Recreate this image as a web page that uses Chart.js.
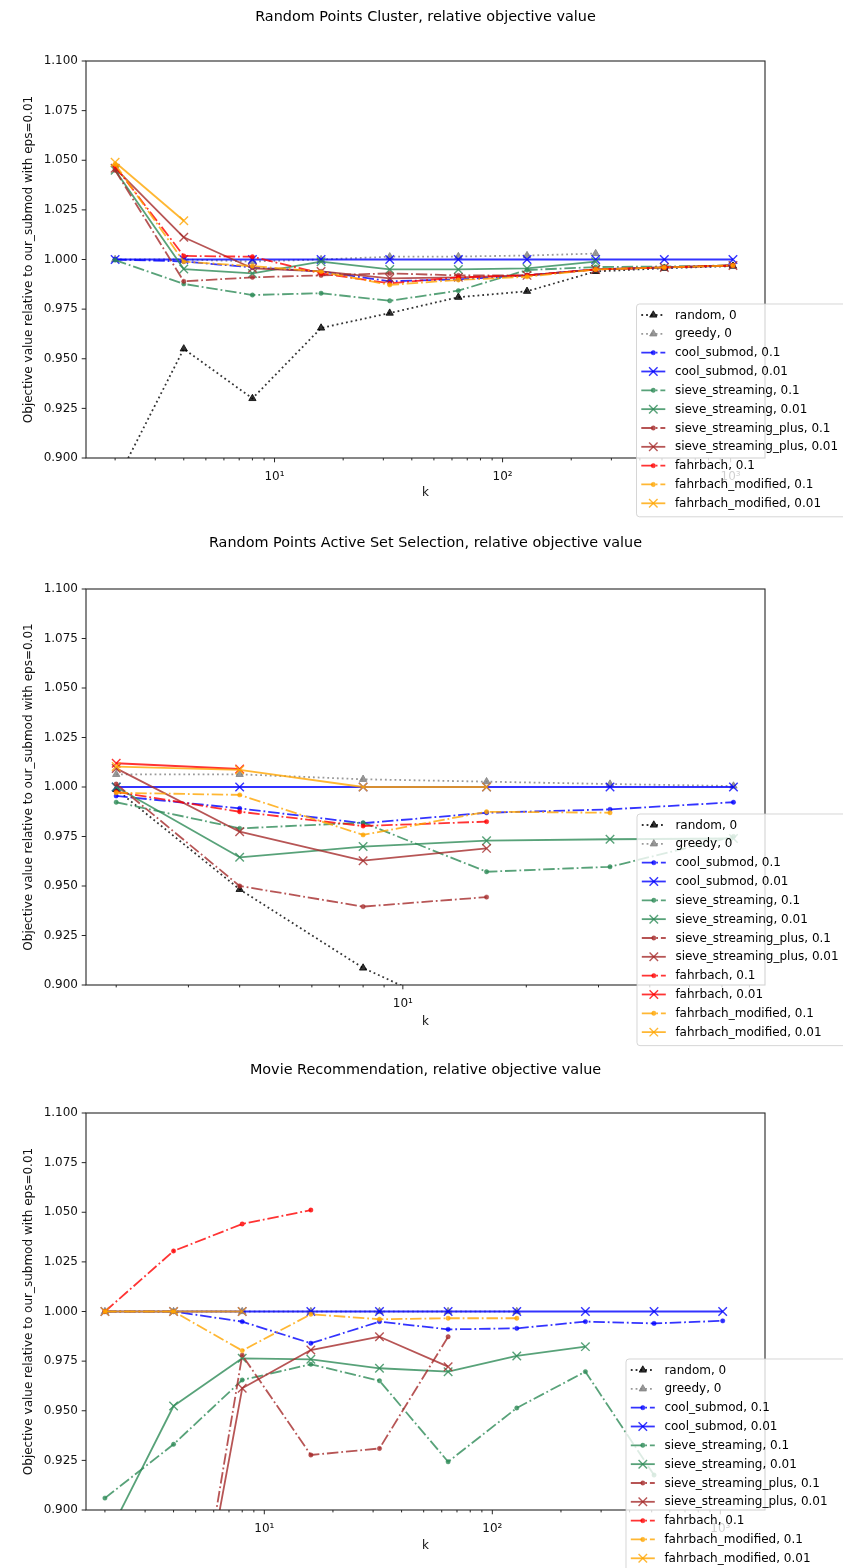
<!DOCTYPE html>
<html><head><meta charset="utf-8">
<script src="https://cdn.jsdelivr.net/npm/chart.js@4.4.0/dist/chart.umd.min.js"></script>
<style>
html,body{margin:0;padding:0;background:#fff;}
body{width:843px;height:1568px;position:relative;overflow:hidden;}
canvas{position:absolute;left:0;}
</style></head><body>
<canvas id="c1" width="843" height="528" style="top:0px"></canvas>
<canvas id="c2" width="843" height="528" style="top:528px"></canvas>
<canvas id="c3" width="843" height="512" style="top:1056px"></canvas>
<script>
// ---------------- DATA ----------------
const yTickValues = [0.900, 0.925, 0.950, 0.975, 1.000, 1.025, 1.050, 1.075, 1.100];
const xMajorTickValues = [10, 100, 1000];
const xMajorTickLabels = ['10\u00b9', '10\u00b2', '10\u00b3'];

// Random Points Cluster
const kCluster = [2, 4, 8, 16, 32, 64, 128, 256, 512, 1024];
const clusterRandom = [0.887, 0.955, 0.930, 0.9655, 0.973, 0.981, 0.984, 0.994, 0.9956, 0.9967];
const clusterGreedy = [1.000, 1.000, 0.999, 1.000, 1.0014, 1.0015, 1.002, 1.003];
const clusterCool01 = [1.000, 0.999, 0.996, 0.994, 0.989, 0.990, 0.992, 0.995, 0.996, 0.997];
const clusterCool001 = [1.000, 1.000, 1.000, 1.000, 1.000, 1.000, 1.000, 1.000, 1.000, 1.000];
const clusterSieve01 = [0.9997, 0.9877, 0.9821, 0.983, 0.9792, 0.9843, 0.9947, 0.9962, 0.9965, 0.997];
const clusterSieve001 = [1.045, 0.9952, 0.993, 0.9989, 0.995, 0.995, 0.9955, 0.9989];
const clusterPlus01 = [1.045, 0.989, 0.991, 0.992, 0.993, 0.992, 0.992, 0.995, 0.996, 0.997];
const clusterPlus001 = [1.046, 1.0112, 0.9956, 0.994, 0.9905, 0.991, 0.992, 0.995, 0.996, 0.997];
const clusterFahr01 = [1.047, 1.0018, 1.0014, 0.993, 0.988, 0.991, 0.992, 0.995, 0.996, 0.997];
const clusterFmod01 = [1.048, 0.9989, 0.9967, 0.9939, 0.9872, 0.9897, 0.9913, 0.995, 0.996, 0.997];
const clusterFmod001 = [1.049, 1.0195];

// Random Points Active Set Selection
const kActive = [2, 4, 8, 16, 32, 64];
const activeRandom = [0.9988, 0.9483, 0.9086, 0.880];
const activeGreedy = [1.0064, 1.0064, 1.0039, 1.0027, 1.0015, 1.0005];
const activeCool01 = [0.9955, 0.9892, 0.9817, 0.987, 0.9887, 0.9923];
const activeCool001 = [1.000, 1.000, 1.000, 1.000, 1.000, 1.000];
const activeSieve01 = [0.9923, 0.9791, 0.982, 0.9572, 0.9597, 0.975];
const activeSieve001 = [1.000, 0.9645, 0.9699, 0.9729, 0.9736, 0.974];
const activePlus01 = [1.0015, 0.950, 0.9396, 0.9444];
const activePlus001 = [1.0094, 0.9774, 0.9628, 0.969];
const activeFahr01 = [0.9976, 0.9875, 0.9803, 0.9825];
const activeFahr001 = [1.012, 1.0091];
const activeFmod01 = [0.9971, 0.996, 0.9758, 0.9875, 0.987];
const activeFmod001 = [1.0103, 1.0086, 1.000, 1.000];

// Movie Recommendation
const kMovie = [2, 4, 8, 16, 32, 64, 128, 256, 512, 1024];
const movieRandom = [];
const movieGreedy = [1.000, 1.000, 1.000, 1.000, 1.000, 1.000, 1.000];
const movieCool01 = [1.000, 1.000, 0.9949, 0.984, 0.9949, 0.991, 0.9915, 0.9949, 0.994, 0.9953];
const movieCool001 = [1.000, 1.000, 1.000, 1.000, 1.000, 1.000, 1.000, 1.000, 1.000, 1.000];
const movieSieve01 = [0.906, 0.9331, 0.9655, 0.9734, 0.9651, 0.9243, 0.9514, 0.9697, 0.9176];
const movieSieve001 = [0.884, 0.9524, 0.9764, 0.9759, 0.9714, 0.9697, 0.9776, 0.9823];
const moviePlus01 = [null, 0.771, 0.978, 0.9277, 0.931, 0.9873];
const moviePlus001 = [null, 0.774, 0.9613, 0.9806, 0.9873, 0.9722];
const movieFahr01 = [1.000, 1.0305, 1.0441, 1.0511];
const movieFmod01 = [1.000, 1.000, 0.9803, 0.9986, 0.9961, 0.9966, 0.9966];
const movieFmod001 = [1.000, 1.000, 1.000];

// ---------------- STYLE ----------------
const FONT = "'DejaVu Sans', 'Liberation Sans', sans-serif";
const ALPHA = 0.8;
const LW = 1.8;
const DASH = { solid: [], dashdot: [11.5, 2.9, 1.8, 2.9], dotted: [1.8, 3.0] };
const RGB = { black: [0,0,0], gray: [128,128,128], blue: [0,0,255], seagreen: [46,139,87],
              brown: [165,42,42], red: [255,0,0], orange: [255,165,0] };
const MARK = {
  tri:  { pointStyle: 'triangle', radius: 4.2, borderWidth: 1 },
  dot:  { pointStyle: 'circle',   radius: 2.2, borderWidth: 0.5 },
  x:    { pointStyle: 'crossRot', radius: 6,   borderWidth: 1.4 }
};
const STYLE = {
  'random, 0':                    { c: 'black',    ls: 'dotted',  m: 'tri' },
  'greedy, 0':                    { c: 'gray',     ls: 'dotted',  m: 'tri' },
  'cool_submod, 0.1':             { c: 'blue',     ls: 'dashdot', m: 'dot' },
  'cool_submod, 0.01':            { c: 'blue',     ls: 'solid',   m: 'x' },
  'sieve_streaming, 0.1':         { c: 'seagreen', ls: 'dashdot', m: 'dot' },
  'sieve_streaming, 0.01':        { c: 'seagreen', ls: 'solid',   m: 'x' },
  'sieve_streaming_plus, 0.1':    { c: 'brown',    ls: 'dashdot', m: 'dot' },
  'sieve_streaming_plus, 0.01':   { c: 'brown',    ls: 'solid',   m: 'x' },
  'fahrbach, 0.1':                { c: 'red',      ls: 'dashdot', m: 'dot' },
  'fahrbach, 0.01':               { c: 'red',      ls: 'solid',   m: 'x' },
  'fahrbach_modified, 0.1':       { c: 'orange',   ls: 'dashdot', m: 'dot' },
  'fahrbach_modified, 0.01':      { c: 'orange',   ls: 'solid',   m: 'x' }
};
function col(name, a) { const v = RGB[name]; return `rgba(${v[0]},${v[1]},${v[2]},${a})`; }

const CHARTS = [
  { id: 'c1', title: 'Random Points Cluster, relative objective value', k: kCluster,
    xmin: 1.4905, xmax: 1415, top: 61, xAxisH: 70, xTitlePad: 27.8, titleY: 17,
    legend: { left: 636.5, top: 304 },
    series: [['random, 0', clusterRandom], ['greedy, 0', clusterGreedy],
             ['cool_submod, 0.1', clusterCool01], ['cool_submod, 0.01', clusterCool001],
             ['sieve_streaming, 0.1', clusterSieve01], ['sieve_streaming, 0.01', clusterSieve001],
             ['sieve_streaming_plus, 0.1', clusterPlus01], ['sieve_streaming_plus, 0.01', clusterPlus001],
             ['fahrbach, 0.1', clusterFahr01],
             ['fahrbach_modified, 0.1', clusterFmod01], ['fahrbach_modified, 0.01', clusterFmod001]] },
  { id: 'c2', title: 'Random Points Active Set Selection, relative objective value', k: kActive,
    xmin: 1.688, xmax: 76.4, top: 61, xAxisH: 71, xTitlePad: 26.8, titleY: 15,
    legend: { left: 637, top: 286 },
    series: [['random, 0', activeRandom], ['greedy, 0', activeGreedy],
             ['cool_submod, 0.1', activeCool01], ['cool_submod, 0.01', activeCool001],
             ['sieve_streaming, 0.1', activeSieve01], ['sieve_streaming, 0.01', activeSieve001],
             ['sieve_streaming_plus, 0.1', activePlus01], ['sieve_streaming_plus, 0.01', activePlus001],
             ['fahrbach, 0.1', activeFahr01], ['fahrbach, 0.01', activeFahr001],
             ['fahrbach_modified, 0.1', activeFmod01], ['fahrbach_modified, 0.01', activeFmod001]] },
  { id: 'c3', title: 'Movie Recommendation, relative objective value', k: kMovie,
    xmin: 1.652, xmax: 1570, top: 57, xAxisH: 58, xTitlePad: 14.8, titleY: 14,
    legend: { left: 626, top: 303 },
    series: [['random, 0', movieRandom], ['greedy, 0', movieGreedy],
             ['cool_submod, 0.1', movieCool01], ['cool_submod, 0.01', movieCool001],
             ['sieve_streaming, 0.1', movieSieve01], ['sieve_streaming, 0.01', movieSieve001],
             ['sieve_streaming_plus, 0.1', moviePlus01], ['sieve_streaming_plus, 0.01', moviePlus001],
             ['fahrbach, 0.1', movieFahr01],
             ['fahrbach_modified, 0.1', movieFmod01], ['fahrbach_modified, 0.01', movieFmod001]] }
];

function drawMarker(ctx, m, x, y) {
  const mk = MARK[m];
  ctx.beginPath();
  if (mk.pointStyle === 'triangle') {
    let rad = 0; const r = mk.radius;
    ctx.moveTo(x + Math.sin(rad) * r, y - Math.cos(rad) * r);
    rad += 2 * Math.PI / 3; ctx.lineTo(x + Math.sin(rad) * r, y - Math.cos(rad) * r);
    rad += 2 * Math.PI / 3; ctx.lineTo(x + Math.sin(rad) * r, y - Math.cos(rad) * r);
    ctx.closePath(); ctx.fill(); ctx.lineWidth = mk.borderWidth; ctx.stroke();
  } else if (mk.pointStyle === 'circle') {
    ctx.arc(x, y, mk.radius, 0, Math.PI * 2); ctx.closePath(); ctx.fill();
    ctx.lineWidth = mk.borderWidth; ctx.stroke();
  } else {
    const o = Math.cos(Math.PI / 4) * mk.radius;
    ctx.moveTo(x - o, y - o); ctx.lineTo(x + o, y + o);
    ctx.moveTo(x + o, y - o); ctx.lineTo(x - o, y + o);
    ctx.lineWidth = mk.borderWidth; ctx.stroke();
  }
}

function roundRect(ctx, x, y, w, h, r) {
  ctx.beginPath();
  ctx.moveTo(x + r, y); ctx.lineTo(x + w - r, y); ctx.arcTo(x + w, y, x + w, y + r, r);
  ctx.lineTo(x + w, y + h - r); ctx.arcTo(x + w, y + h, x + w - r, y + h, r);
  ctx.lineTo(x + r, y + h); ctx.arcTo(x, y + h, x, y + h - r, r);
  ctx.lineTo(x, y + r); ctx.arcTo(x, y, x + r, y, r); ctx.closePath();
}

function decor(cfg) {
  return {
    id: 'decor_' + cfg.id,
    afterDatasetsDraw(chart) {
      const { ctx, chartArea: a, scales } = chart;
      ctx.save();
      ctx.strokeStyle = '#262626'; ctx.lineWidth = 1;
      scales.x.ticks.forEach(t => {
        const px = scales.x.getPixelForValue(t.value);
        const len = xMajorTickValues.includes(t.value) ? 4.3 : 2.4;
        ctx.beginPath(); ctx.moveTo(px, a.bottom); ctx.lineTo(px, a.bottom + len); ctx.stroke();
      });
      scales.y.ticks.forEach(t => {
        const py = scales.y.getPixelForValue(t.value);
        ctx.beginPath(); ctx.moveTo(a.left, py); ctx.lineTo(a.left - 4.3, py); ctx.stroke();
      });
      ctx.lineWidth = 1.1;
      ctx.strokeRect(a.left, a.top, a.right - a.left, a.bottom - a.top);
      ctx.fillStyle = '#000'; ctx.font = '14.4px ' + FONT;
      ctx.textAlign = 'center'; ctx.textBaseline = 'middle';
      ctx.fillText(chart.options.plugins.title.text, (a.left + a.right) / 2, cfg.titleY);
      ctx.restore();
    },
    afterDraw(chart) {
      const ctx = chart.ctx;
      const L = cfg.legend.left, T = cfg.legend.top;
      const n = cfg.series.length, step = 18.83;
      const H = 11 + (n - 1) * step + 13.5;
      ctx.save();
      roundRect(ctx, L, T, 843 + 10 - L, H, 3);
      ctx.fillStyle = 'rgba(255,255,255,0.8)'; ctx.fill();
      ctx.strokeStyle = 'rgba(204,204,204,0.8)'; ctx.lineWidth = 1; ctx.stroke();
      cfg.series.forEach((s, i) => {
        const st = STYLE[s[0]];
        const y = T + 11 + i * step;
        const x0 = L + 4.8, x1 = L + 28.8;
        ctx.strokeStyle = col(st.c, ALPHA); ctx.fillStyle = col(st.c, ALPHA);
        ctx.lineWidth = LW; ctx.setLineDash(DASH[st.ls]); ctx.lineCap = 'butt';
        ctx.beginPath(); ctx.moveTo(x0, y); ctx.lineTo(x1, y); ctx.stroke();
        ctx.setLineDash([]);
        drawMarker(ctx, st.m, (x0 + x1) / 2, y);
        ctx.fillStyle = '#000'; ctx.font = '12px ' + FONT;
        ctx.textAlign = 'left'; ctx.textBaseline = 'middle';
        ctx.fillText(s[0], L + 38.4, y + 0.5);
      });
      ctx.restore();
    }
  };
}

function xTickList(min, max) {
  const out = [];
  [1, 10, 100, 1000].forEach(d => { for (let m = 1; m <= 9; m++) { const v = m * d; if (v >= min && v <= max) out.push(v); } });
  return out;
}

CHARTS.forEach(cfg => {
  const N = cfg.series.length;
  const datasets = cfg.series.map((s, i) => {
    const st = STYLE[s[0]]; const mk = MARK[st.m];
    return {
      label: s[0],
      data: s[1].map((v, j) => ({ x: cfg.k[j], y: v })),
      borderColor: col(st.c, ALPHA), backgroundColor: col(st.c, ALPHA),
      pointBackgroundColor: col(st.c, ALPHA), pointBorderColor: col(st.c, ALPHA),
      borderWidth: LW, borderDash: DASH[st.ls], borderCapStyle: 'butt', borderJoinStyle: 'round',
      pointStyle: mk.pointStyle, pointRadius: mk.radius, pointHoverRadius: mk.radius,
      pointBorderWidth: mk.borderWidth, pointHoverBorderWidth: mk.borderWidth,
      tension: 0, fill: false, spanGaps: false, order: N - i
    };
  });
  const xticks = xTickList(cfg.xmin, cfg.xmax);
  new Chart(document.getElementById(cfg.id), {
    type: 'line',
    data: { datasets },
    options: {
      responsive: false, animation: false, devicePixelRatio: 1,
      layout: { padding: { left: 0, right: 843 - 765, top: cfg.top, bottom: 0 } },
      plugins: { legend: { display: false }, tooltip: { enabled: false },
                 title: { display: false, text: cfg.title } },
      events: [],
      scales: {
        x: {
          type: 'logarithmic', min: cfg.xmin, max: cfg.xmax,
          afterBuildTicks: sc => { sc.ticks = xticks.map(v => ({ value: v })); },
          afterFit: sc => { sc.height = cfg.xAxisH; },
          ticks: { autoSkip: false, maxRotation: 0, minRotation: 0, padding: 8,
                   color: '#111', font: { family: FONT, size: 12 },
                   callback: v => { const i = xMajorTickValues.indexOf(v); return i >= 0 ? xMajorTickLabels[i] : ''; } },
          grid: { display: false, drawTicks: true, tickLength: 4 },
          border: { display: false },
          title: { display: true, text: 'k', color: '#111', font: { family: FONT, size: 12 },
                   padding: { top: 0, bottom: cfg.xTitlePad } }
        },
        y: {
          type: 'linear', min: 0.9, max: 1.1,
          afterBuildTicks: sc => { sc.ticks = yTickValues.map(v => ({ value: v })); },
          afterFit: sc => { sc.width = 86; },
          ticks: { padding: 4, color: '#111', font: { family: FONT, size: 12 },
                   callback: v => Number(v).toFixed(3) },
          grid: { display: false, drawTicks: true, tickLength: 4 },
          border: { display: false },
          title: { display: true, text: 'Objective value relative to our_submod with eps=0.01',
                   color: '#111', font: { family: FONT, size: 12 }, padding: { top: 22, bottom: 0 } }
        }
      }
    },
    plugins: [decor(cfg)]
  });
});
</script>
</body></html>
